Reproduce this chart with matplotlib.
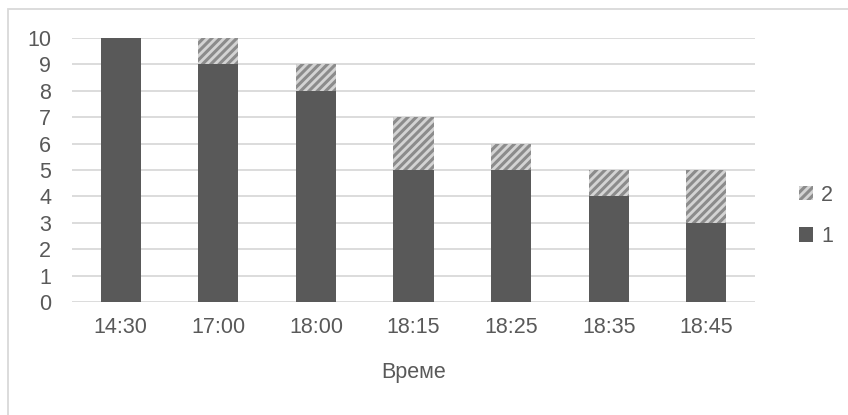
import matplotlib
matplotlib.use("Agg")
import matplotlib.pyplot as plt
from matplotlib.patches import Rectangle, Patch

plt.rcParams['font.family'] = ['Liberation Sans', 'DejaVu Sans']
plt.rcParams['hatch.linewidth'] = 2.2
plt.rcParams['hatch.color'] = '#8c8c8c'

categories = ['14:30', '17:00', '18:00', '18:15', '18:25', '18:35', '18:45']
series1 = [10, 9, 8, 5, 5, 4, 3]
series2 = [0, 1, 1, 2, 1, 1, 2]
y_ticks = list(range(0, 11))

text_color = '#595959'
grid_color = '#d9d9d9'
dark = '#595959'
fs = 15.5

W, H = 848, 415
fig = plt.figure(figsize=(W / 100, H / 100), dpi=100)

# outer chart border
fig.patches.append(Rectangle((8 / W, -0.05), 1.1, 1 - 9 / H + 0.05,
                             transform=fig.transFigure, fill=False,
                             edgecolor=grid_color, linewidth=1.3))

ax = fig.add_axes([72 / W, 1 - 302 / H, 683 / W, 264 / H])
x = range(len(categories))
width = 0.41
ax.bar(x, series1, width, color=dark, linewidth=0, zorder=3)
ax.bar(x, series2, width, bottom=series1, facecolor='#d4d4d4',
       edgecolor='#8c8c8c', hatch='////', linewidth=0, zorder=3)

ax.set_xlim(-0.5, len(categories) - 0.5)
ax.set_ylim(0, 10)
ax.set_yticks(y_ticks)
ax.set_xticks(list(x))
ax.set_xticklabels(categories)
ax.yaxis.grid(True, color=grid_color, linewidth=1.3, zorder=0)
ax.set_axisbelow(True)
for s in ax.spines.values():
    s.set_visible(False)
ax.tick_params(axis='both', length=0, labelsize=fs, labelcolor=text_color)
ax.tick_params(axis='y', pad=15)
ax.tick_params(axis='x', pad=11)
ax.set_xlabel('Време', fontsize=fs, color=text_color, labelpad=17)

handles = [Patch(facecolor='#d4d4d4', edgecolor='#8c8c8c', hatch='////', linewidth=0),
           Patch(facecolor=dark, linewidth=0)]
fig.legend(handles, ['2', '1'], loc='center left',
           bbox_to_anchor=(780 / W, 1 - 216 / H), frameon=False,
           fontsize=fs, labelcolor=text_color, handlelength=0.65,
           handleheight=0.65, handletextpad=0.35, labelspacing=0.95)

fig.savefig('out.png', dpi=100)
